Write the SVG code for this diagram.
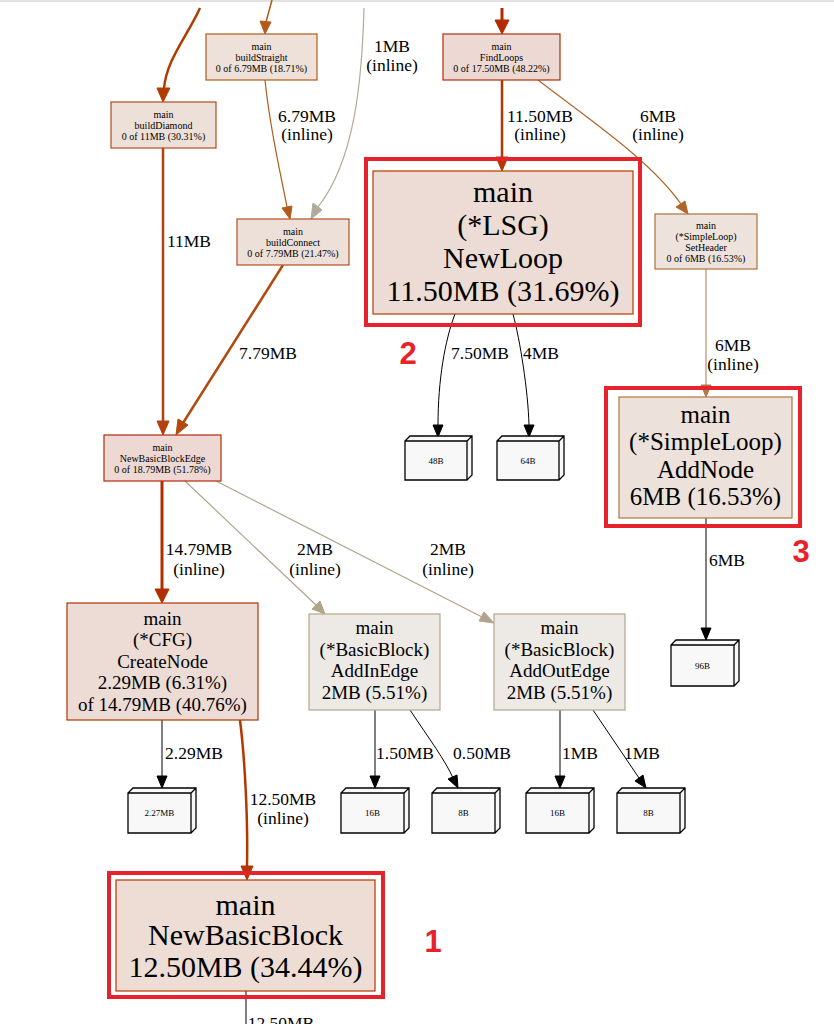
<svg xmlns="http://www.w3.org/2000/svg" width="834" height="1024" viewBox="0 0 834 1024">
<style>
text{font-family:"Liberation Serif","Times New Roman",serif;fill:#000;text-anchor:middle}
.s{font-size:10px}
.el{font-size:17.5px}
.lf{font-size:9px}
.n rect{stroke-width:1.2}
.leaf path{fill:#f8f8f8;stroke:#000;stroke-width:1.3}
.n rect.hl{fill:none;stroke:#e8222c;stroke-width:4}
.num{font-family:"Liberation Sans",Arial,sans-serif;font-weight:bold;font-size:31px;fill:#e8222c}
.b30{font-size:30px}
.b25{font-size:25px}
.b19{font-size:19px}
#edges path{fill:none}
</style>
<rect width="834" height="1024" fill="#fff"/>
<line x1="0" y1="1" x2="834" y2="1" stroke="#e2e2e2" stroke-width="2"/>

<g id="edges">
  <path d="M200,8 C188,35 166,60 164,89" stroke="#b23c00" stroke-width="2.5"/>
  <polygon points="157,88 170,88 163,102" fill="#b23c00" stroke="#b23c00"/>
  <path d="M272,0 L266,22" stroke="#b25a1a" stroke-width="1.5"/>
  <polygon points="260,21 271,22 265,34" fill="#b25a1a" stroke="#b25a1a"/>
  <path d="M364,8 C362,80 355,160 318,207" stroke="#b2aa9a" stroke-width="1.2"/>
  <polygon points="313,203 322,210 311,219" fill="#b2aa9a" stroke="#b2aa9a"/>
  <path d="M502,8 L502,20" stroke="#b22a00" stroke-width="3"/>
  <polygon points="495,20 509,20 502,34" fill="#b22a00" stroke="#b22a00"/>
  <path d="M502,80 L502,158" stroke="#b23800" stroke-width="2.5"/>
  <polygon points="496,157 508,157 502,171" fill="#b23800" stroke="#b23800"/>
  <path d="M538,80 C590,120 650,160 681,204" stroke="#b2652b" stroke-width="1.2"/>
  <polygon points="676,207 685,201 688,214" fill="#b2652b" stroke="#b2652b"/>
  <path d="M265,80 C270,130 280,170 287,207" stroke="#b25a1a" stroke-width="1.2"/>
  <polygon points="282,208 292,206 290,219" fill="#b25a1a" stroke="#b25a1a"/>
  <path d="M163,148 L163,421" stroke="#b24010" stroke-width="2.5"/>
  <polygon points="157,421 169,421 163,435" fill="#b24010" stroke="#b24010"/>
  <path d="M283,265 L183,423" stroke="#b24a10" stroke-width="2.5"/>
  <polygon points="178,419 188,425 176,435" fill="#b24a10" stroke="#b24a10"/>
  <path d="M706,269 L706,385" stroke="#b2784a" stroke-width="1"/>
  <polygon points="701,385 711,385 706,397" fill="#b2784a" stroke="#b2784a"/>
  <path d="M455,314 C445,340 438,380 438,425" stroke="#000" stroke-width="1"/>
  <polygon points="433,425 443,425 438,437" fill="#000" stroke="#000"/>
  <path d="M513,314 C520,340 528,390 529,425" stroke="#000" stroke-width="1"/>
  <polygon points="524,425 534,425 529,437" fill="#000" stroke="#000"/>
  <path d="M706,518 L706,628" stroke="#000" stroke-width="1"/>
  <polygon points="701,628 711,628 706,640" fill="#000" stroke="#000"/>
  <path d="M162,481 L162,589" stroke="#b22e00" stroke-width="3"/>
  <polygon points="155,589 169,589 162,603" fill="#b22e00" stroke="#b22e00"/>
  <path d="M185,481 L316,605" stroke="#b2a488" stroke-width="1.2"/>
  <polygon points="312,609 320,601 325,614" fill="#b2a488" stroke="#b2a488"/>
  <path d="M216,481 L482,617" stroke="#b2a488" stroke-width="1.2"/>
  <polygon points="479,621 484,612 494,623" fill="#b2a488" stroke="#b2a488"/>
  <path d="M162,720 L162,776" stroke="#000" stroke-width="1"/>
  <polygon points="157,776 167,776 162,788" fill="#000" stroke="#000"/>
  <path d="M240,720 C245,760 248,820 247,866" stroke="#b23800" stroke-width="2.5"/>
  <polygon points="241,866 253,866 247,880" fill="#b23800" stroke="#b23800"/>
  <path d="M375,710 L375,776" stroke="#000" stroke-width="1"/>
  <polygon points="370,776 380,776 375,788" fill="#000" stroke="#000"/>
  <path d="M410,710 C430,740 445,760 453,778" stroke="#000" stroke-width="1"/>
  <polygon points="448,779 457,775 458,788" fill="#000" stroke="#000"/>
  <path d="M560,710 L560,776" stroke="#000" stroke-width="1"/>
  <polygon points="555,776 565,776 560,788" fill="#000" stroke="#000"/>
  <path d="M593,710 L639,778" stroke="#000" stroke-width="1"/>
  <polygon points="635,781 643,775 646,788" fill="#000" stroke="#000"/>
  <path d="M246,991 L246,1024" stroke="#000" stroke-width="1"/>

  <text class="el" x="392" y="52">1MB</text><text class="el" x="392" y="71">(inline)</text>
  <text class="el" x="307" y="122">6.79MB</text><text class="el" x="307" y="140">(inline)</text>
  <text class="el" x="540" y="122">11.50MB</text><text class="el" x="540" y="140">(inline)</text>
  <text class="el" x="658" y="122">6MB</text><text class="el" x="658" y="140">(inline)</text>
  <text class="el" x="189" y="247">11MB</text>
  <text class="el" x="268" y="359">7.79MB</text>
  <text class="el" x="480" y="359">7.50MB</text>
  <text class="el" x="541" y="359">4MB</text>
  <text class="el" x="733" y="351">6MB</text><text class="el" x="733" y="370">(inline)</text>
  <text class="el" x="727" y="566">6MB</text>
  <text class="el" x="199" y="555">14.79MB</text><text class="el" x="199" y="575">(inline)</text>
  <text class="el" x="315" y="555">2MB</text><text class="el" x="315" y="575">(inline)</text>
  <text class="el" x="448" y="555">2MB</text><text class="el" x="448" y="575">(inline)</text>
  <text class="el" x="194" y="759">2.29MB</text>
  <text class="el" x="283" y="805">12.50MB</text><text class="el" x="283" y="824">(inline)</text>
  <text class="el" x="405" y="759">1.50MB</text>
  <text class="el" x="482" y="759">0.50MB</text>
  <text class="el" x="580" y="759">1MB</text>
  <text class="el" x="642" y="759">1MB</text>
  <text class="el" x="281" y="1029">12.50MB</text>
</g>

<g id="buildStraight" class="n">
  <rect x="206" y="34" width="111" height="46" fill="#ede1d9" stroke="#b25a1a"/>
  <text class="s" x="261.5" y="49.5">main</text><text class="s" x="261.5" y="60.5">buildStraight</text><text class="s" x="261.5" y="71.5">0 of 6.79MB (18.71%)</text>
</g>
<g id="buildDiamond" class="n">
  <rect x="111" y="102" width="105" height="46" fill="#ede0d9" stroke="#b24a1c"/>
  <text class="s" x="163.5" y="117.5">main</text><text class="s" x="163.5" y="128.5">buildDiamond</text><text class="s" x="163.5" y="139.5">0 of 11MB (30.31%)</text>
</g>
<g id="FindLoops" class="n">
  <rect x="443" y="34" width="117" height="46" fill="#edd9d3" stroke="#b22c08"/>
  <text class="s" x="501.5" y="49.5">main</text><text class="s" x="501.5" y="60.5">FindLoops</text><text class="s" x="501.5" y="71.5">0 of 17.50MB (48.22%)</text>
</g>
<g id="buildConnect" class="n">
  <rect x="237" y="219" width="112" height="46" fill="#ede0d9" stroke="#b2501e"/>
  <text class="s" x="293" y="234.5">main</text><text class="s" x="293" y="245.5">buildConnect</text><text class="s" x="293" y="256.5">0 of 7.79MB (21.47%)</text>
</g>
<g id="SetHeader" class="n">
  <rect x="655" y="214" width="102" height="55" fill="#ede3dc" stroke="#b2703a"/>
  <text class="s" x="706" y="228.5">main</text><text class="s" x="706" y="239.5">(*SimpleLoop)</text><text class="s" x="706" y="250.5">SetHeader</text><text class="s" x="706" y="261.5">0 of 6MB (16.53%)</text>
</g>
<g id="NewLoop" class="n">
  <rect x="373" y="171" width="260" height="143" fill="#eddcd5" stroke="#b23c00"/>
  <text class="b30" x="503" y="202">main</text>
  <text class="b30" x="503" y="235">(*LSG)</text>
  <text class="b30" x="503" y="268">NewLoop</text>
  <text class="b30" x="503" y="301">11.50MB (31.69%)</text>
  <rect class="hl" x="366" y="159" width="274" height="166"/>
  <text class="num" x="408" y="364">2</text>
</g>
<g id="AddNode" class="n">
  <rect x="619" y="397" width="173" height="121" fill="#ede2db" stroke="#b2773f"/>
  <text class="b25" x="705.5" y="423">main</text>
  <text class="b25" x="705.5" y="450">(*SimpleLoop)</text>
  <text class="b25" x="705.5" y="478">AddNode</text>
  <text class="b25" x="705.5" y="505">6MB (16.53%)</text>
  <rect class="hl" x="606" y="388" width="194" height="138"/>
  <text class="num" x="801" y="562">3</text>
</g>
<g id="NewBasicBlockEdge" class="n">
  <rect x="104" y="435" width="117" height="46" fill="#edd8d3" stroke="#b22a0a"/>
  <text class="s" x="162.5" y="450.5">main</text><text class="s" x="162.5" y="461.5">NewBasicBlockEdge</text><text class="s" x="162.5" y="472.5">0 of 18.79MB (51.78%)</text>
</g>
<g id="CreateNode" class="n">
  <rect x="67" y="603" width="191" height="117" fill="#eddbd5" stroke="#b23200"/>
  <text class="b19" x="162.5" y="625">main</text>
  <text class="b19" x="162.5" y="646">(*CFG)</text>
  <text class="b19" x="162.5" y="668">CreateNode</text>
  <text class="b19" x="162.5" y="689">2.29MB (6.31%)</text>
  <text class="b19" x="162.5" y="711">of 14.79MB (40.76%)</text>
</g>
<g id="AddInEdge" class="n">
  <rect x="309" y="614" width="131" height="96" fill="#edeae5" stroke="#b2a68c"/>
  <text class="b19" x="374.5" y="634">main</text>
  <text class="b19" x="374.5" y="656">(*BasicBlock)</text>
  <text class="b19" x="374.5" y="677">AddInEdge</text>
  <text class="b19" x="374.5" y="699">2MB (5.51%)</text>
</g>
<g id="AddOutEdge" class="n">
  <rect x="494" y="614" width="131" height="96" fill="#edeae5" stroke="#b2a68c"/>
  <text class="b19" x="559.5" y="634">main</text>
  <text class="b19" x="559.5" y="656">(*BasicBlock)</text>
  <text class="b19" x="559.5" y="677">AddOutEdge</text>
  <text class="b19" x="559.5" y="699">2MB (5.51%)</text>
</g>
<g id="NewBasicBlock" class="n">
  <rect x="116" y="880" width="259" height="111" fill="#edddd5" stroke="#b23800"/>
  <text class="b30" x="245.5" y="915">main</text>
  <text class="b30" x="245.5" y="945">NewBasicBlock</text>
  <text class="b30" x="245.5" y="977">12.50MB (34.44%)</text>
  <rect class="hl" x="109" y="873" width="274" height="124"/>
  <text class="num" x="433" y="952">1</text>
</g>

<g id="leaf48B" class="leaf">
  <path d="M405,441 L410,436 L472,436 L472,475 L467,480 L405,480 Z M405,441 L467,441 L472,436 M467,441 L467,480"/>
  <text class="lf" x="436" y="464">48B</text>
</g>
<g id="leaf64B" class="leaf">
  <path d="M497,441 L502,436 L564,436 L564,475 L559,480 L497,480 Z M497,441 L559,441 L564,436 M559,441 L559,480"/>
  <text class="lf" x="528" y="464">64B</text>
</g>
<g id="leaf96B" class="leaf">
  <path d="M671,645 L676,640 L739,640 L739,681 L734,686 L671,686 Z M671,645 L734,645 L739,640 M734,645 L734,686"/>
  <text class="lf" x="702.5" y="669">96B</text>
</g>
<g id="leaf227MB" class="leaf">
  <path d="M128,793 L133,788 L196,788 L196,828 L191,833 L128,833 Z M128,793 L191,793 L196,788 M191,793 L191,833"/>
  <text class="lf" x="159.5" y="816">2.27MB</text>
</g>
<g id="leaf16B_a" class="leaf">
  <path d="M341,793 L346,788 L409,788 L409,828 L404,833 L341,833 Z M341,793 L404,793 L409,788 M404,793 L404,833"/>
  <text class="lf" x="372.5" y="816">16B</text>
</g>
<g id="leaf8B_a" class="leaf">
  <path d="M432,793 L437,788 L500,788 L500,828 L495,833 L432,833 Z M432,793 L495,793 L500,788 M495,793 L495,833"/>
  <text class="lf" x="463.5" y="816">8B</text>
</g>
<g id="leaf16B_b" class="leaf">
  <path d="M526,793 L531,788 L594,788 L594,828 L589,833 L526,833 Z M526,793 L589,793 L594,788 M589,793 L589,833"/>
  <text class="lf" x="557.5" y="816">16B</text>
</g>
<g id="leaf8B_b" class="leaf">
  <path d="M617,793 L622,788 L685,788 L685,828 L680,833 L617,833 Z M617,793 L680,793 L685,788 M680,793 L680,833"/>
  <text class="lf" x="648.5" y="816">8B</text>
</g>
</svg>
